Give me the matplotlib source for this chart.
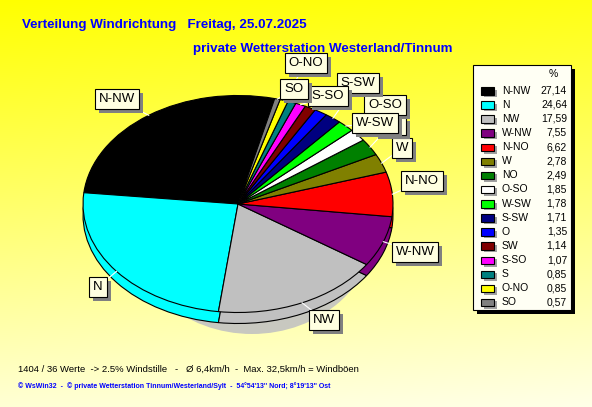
import numpy as np
import matplotlib
matplotlib.use("Agg")
import matplotlib.pyplot as plt
from matplotlib.patches import Rectangle, Ellipse
from matplotlib.transforms import Affine2D

# Wind direction distribution (percent of readings)
directions = ["N-NW", "N", "NW", "W-NW", "N-NO", "W", "NO", "O-SO",
              "W-SW", "S-SW", "O", "SW", "S-SO", "S", "O-NO", "SO"]
shares = [27.14, 24.64, 17.59, 7.55, 6.62, 2.78, 2.49, 1.85,
          1.78, 1.71, 1.35, 1.14, 1.07, 0.85, 0.85, 0.57]
slice_colors = ["#000000", "#00ffff", "#c0c0c0", "#800080", "#ff0000", "#808000",
                "#008000", "#ffffff", "#00ff00", "#000080", "#0000ff", "#800000",
                "#ff00ff", "#008080", "#ffff00", "#808080"]

# Callout boxes around the pie (centre of each box, pixel coordinates);
# None marks a callout whose text is covered by a neighbouring box
callouts = {
    "N-NW": (117, 99), "N": (98, 287), "NW": (324, 320), "W-NW": (415, 252),
    "N-NO": (422, 181), "W": (402, 148), "NO": None, "O-SO": (385, 105),
    "W-SW": (375, 123), "S-SW": (358, 83), "S-SO": (328, 96), "O-NO": (306, 63),
    "SO": (294, 89),
}

W, H = 592, 407
fig = plt.figure(figsize=(W / 100, H / 100), dpi=100)
ax = fig.add_axes([0, 0, 1, 1])

FONT = "Liberation Sans"
BLUE = "#0000ff"

# background gradient: strong yellow at the top fading to cream
yy, xx = np.mgrid[0:H, 0:W]
blue_ch = np.clip(0.86 * yy / H + 0.08 * xx / W, 0, 1) * 0.97
bg = np.dstack([np.ones_like(blue_ch), np.ones_like(blue_ch), blue_ch])
ax.imshow(bg, extent=(0, W, H, 0), aspect="auto", zorder=0, interpolation="bilinear")

# pie geometry (pixel coordinates, y grows downward)
cx, cy = 238, 204
rx, ry = 155, 108.5
depth = 11
start = 76.3


def face_transform(dy):
    return Affine2D().scale(rx, -ry).translate(cx, cy + dy) + ax.transData


# drop shadow below the disc
ax.add_patch(Ellipse((252, 222), 250, 224, facecolor="#c8c8c0", edgecolor="none", zorder=1))

z = 2
# side of the disc: stacked copies without outlines
for d in range(depth - 1, 0, -1):
    wedges, _ = ax.pie(shares, colors=slice_colors, startangle=start, counterclock=True,
                       wedgeprops=dict(linewidth=0))
    for w in wedges:
        w.set_transform(face_transform(d))
        w.set_zorder(z)
    z += 1

# bottom rim with outlines
wedges, _ = ax.pie(shares, colors=slice_colors, startangle=start, counterclock=True,
                   wedgeprops=dict(edgecolor="black", linewidth=0.8))
for w in wedges:
    w.set_transform(face_transform(depth))
    w.set_zorder(z)
z += 1

# top face
top_wedges, _ = ax.pie(shares, colors=slice_colors, startangle=start, counterclock=True,
                       wedgeprops=dict(edgecolor="black", linewidth=0.8))
for w in top_wedges:
    w.set_transform(face_transform(0))
    w.set_zorder(z)
z += 1

ax.set_aspect("auto")
ax.set_xlim(0, W)
ax.set_ylim(H, 0)
ax.axis("off")

BOX_FC = "#ffffe1"
SHADOW = "#808080"

# callout labels with leader lines
label_texts = []
for name, w in zip(directions, top_wedges):
    if name not in callouts:
        continue
    mid = np.deg2rad((w.theta1 + w.theta2) / 2)
    ex, ey = cx + rx * np.cos(mid), cy - ry * np.sin(mid)
    pos = callouts[name]
    if pos is None:
        # box tucked behind the W-SW callout
        x0, y0, bw, bh = 374, 117, 32, 18
        ax.plot([ex, x0 + bw / 2], [ey, y0 + bh / 2], color="white", linewidth=0.8, zorder=z)
        ax.add_patch(Rectangle((x0 + 4, y0 + 4), bw, bh, facecolor=SHADOW,
                               edgecolor="none", zorder=z + 1))
        ax.add_patch(Rectangle((x0, y0), bw, bh, facecolor=BOX_FC, edgecolor="black",
                               linewidth=0.8, zorder=z + 2))
        z += 3
        continue
    bx, by = pos
    ax.plot([ex, bx], [ey, by], color="white", linewidth=0.8, zorder=z)
    t = ax.text(bx, by, name, ha="center", va="center", fontsize=9.5, family=FONT,
                color="black", zorder=z + 2,
                bbox=dict(boxstyle="square,pad=0.3", fc=BOX_FC, ec="black", lw=0.8))
    label_texts.append((t, z + 1))
    z += 3

# shadows behind the callout boxes, sized from the rendered boxes
fig.canvas.draw()
inv = ax.transData.inverted()
for t, sz in label_texts:
    ext = t.get_bbox_patch().get_window_extent()
    (x0, y1), (x1, y0) = inv.transform([[ext.x0, ext.y0], [ext.x1, ext.y1]])
    ax.add_patch(Rectangle((x0 + 4, y0 + 4), x1 - x0, y1 - y0, facecolor=SHADOW,
                           edgecolor="none", zorder=sz))

# titles
ax.text(22, 25, "Verteilung Windrichtung   Freitag, 25.07.2025", fontsize=9.6,
        fontweight="bold", family=FONT, color=BLUE, va="center", ha="left", zorder=2)
ax.text(193, 49, "private Wetterstation Westerland/Tinnum", fontsize=9.6,
        fontweight="bold", family=FONT, color=BLUE, va="center", ha="left", zorder=2)

# legend panel
lz = 500
ax.add_patch(Rectangle((477, 69), 98, 245, facecolor="black", edgecolor="none", zorder=lz))
ax.add_patch(Rectangle((473, 65), 98, 245, facecolor="#fffff4", edgecolor="black",
                       linewidth=0.8, zorder=lz + 1))
ax.text(553, 74, "%", fontsize=7.5, family=FONT, ha="center", va="center", zorder=lz + 2)
row0, step = 90.5, 14.13
for i, (name, val, col) in enumerate(zip(directions, shares, slice_colors)):
    y = row0 + i * step
    ax.add_patch(Rectangle((484, y - 1), 13, 7.5, facecolor="#a0a0a0", edgecolor="none",
                           zorder=lz + 2))
    ax.add_patch(Rectangle((481, y - 3.5), 13, 7.5, facecolor=col, edgecolor="black",
                           linewidth=0.8, zorder=lz + 3))
    ax.text(502, y, name, fontsize=7.5, family=FONT, ha="left", va="center", zorder=lz + 3)
    ax.text(567, y, f"{val:.2f}".replace(".", ","), fontsize=7.5, family=FONT,
            ha="right", va="center", zorder=lz + 3)

# footer
ax.text(18, 369, "1404 / 36 Werte  -> 2.5% Windstille   -   \u00d8 6,4km/h  -  "
        "Max. 32,5km/h = Windb\u00f6en", fontsize=6.8, family=FONT, color="black",
        ha="left", va="center", zorder=2)
ax.text(18, 386, "\u00a9 WsWin32  -  \u00a9 private Wetterstation Tinnum/Westerland/Sylt  -  "
        "54\u00b054'13'' Nord; 8\u00b019'13'' Ost", fontsize=5.0, fontweight="bold",
        family=FONT, color=BLUE, ha="left", va="center", zorder=2)

fig.savefig("out.png", dpi=100)
